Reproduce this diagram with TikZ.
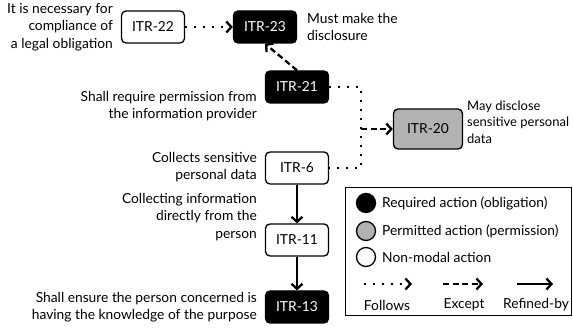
\documentclass[tikz,border=0pt]{standalone}
\usepackage{fontspec}
\setmainfont{Lato}
\usetikzlibrary{arrows.meta}
\begin{document}
\begin{tikzpicture}[x=1pt,y=-1pt,
  font=\fontsize{13.8}{17.5}\selectfont,
  act/.style={draw, line width=1.3pt, rounded corners=4.5pt,
    minimum width=63pt, minimum height=32pt, inner sep=0pt},
  oblig/.style={act, fill=black, text=white},
  perm/.style={act, fill=black!30},
  plain/.style={act, fill=white},
  rnote/.style={align=right, anchor=east, inner sep=0pt},
  lnote/.style={align=left, anchor=west, inner sep=0pt},
  tip/.style={-{Straight Barb[length=5pt,width=11pt,line width=2.3pt]}},
  follows/.style={line width=2.2pt, dash pattern=on 1.8pt off 7.2pt},
  follow/.style={follows, tip},
  except/.style={line width=2.3pt, dash pattern=on 6pt off 3.5pt, tip},
  refined/.style={line width=2.3pt, tip},
  dot/.style={circle, draw, line width=1.3pt, minimum size=19pt, inner sep=0pt}
]
\useasboundingbox (0,0) rectangle (573,328);

% actions
\node[plain] (i22) at (153,27) {ITR-22};
\node[oblig] (i23) at (265,27) {ITR-23};
\node[oblig] (i21) at (297,87) {ITR-21};
\node[perm, minimum width=69pt, minimum height=40pt] (i20) at (428,129) {ITR-20};
\node[plain] (i6) at (297,168) {ITR-6};
\node[plain] (i11) at (297,240) {ITR-11};
\node[oblig] (i13) at (297,307) {ITR-13};

% descriptions
\node[rnote] (n22) at (113,27) {It is necessary for\\compliance of\\a legal obligation};
\node[lnote] (n23) at (307,27) {Must make the\\disclosure};
\node[rnote] (n21) at (257,106) {Shall require permission from\\the information provider};
\node[lnote, font=\fontsize{13}{16.5}\selectfont] (n20) at (467,122) {May disclose\\sensitive personal\\data};
\node[rnote] (n6) at (257,167) {Collects sensitive\\personal data};
\node[rnote] (n11) at (257,217) {Collecting information\\directly from the\\person};
\node[rnote] (n13) at (257,307) {Shall ensure the person concerned is\\having the knowledge of the purpose};

% relations
\draw[follow] (i22) -- (i23);
\draw[except] (i21.north) -- (i23.south);
\coordinate (j) at (361,129);
\draw[follows] (i21.east) -| (j) |- (i6.east);
\draw[except] (j) -- (i20.west);
\draw[refined] (i6) -- (i11);
\draw[refined] (i11) -- (i13);

% legend
\node[draw, line width=1.3pt, minimum width=226pt, minimum height=128pt,
  inner sep=0pt, anchor=north west] (leg) at (345,187) {};
\node[dot, fill=black] (k1) at (366,203) {};
\node[dot, fill=black!30] (k2) at (366,231) {};
\node[dot, fill=white] (k3) at (366,257) {};
\node[anchor=west, inner sep=0pt] (t1) at (382,203) {Required action (obligation)};
\node[anchor=west, inner sep=0pt] (t2) at (382,231) {Permitted action (permission)};
\node[anchor=west, inner sep=0pt] (t3) at (382,257) {Non-modal action};
\coordinate (a1) at (364,284); \coordinate (b1) at (412,284);
\coordinate (a2) at (443,284); \coordinate (b2) at (483,284);
\coordinate (a3) at (517,284); \coordinate (b3) at (553,284);
\draw[follow] (a1) -- (b1);
\draw[except] (a2) -- (b2);
\draw[refined] (a3) -- (b3);
\node (l1) at (387,305) {Follows};
\node (l2) at (464,305) {Except};
\node (l3) at (536,305) {Refined-by};
\end{tikzpicture}
\end{document}
